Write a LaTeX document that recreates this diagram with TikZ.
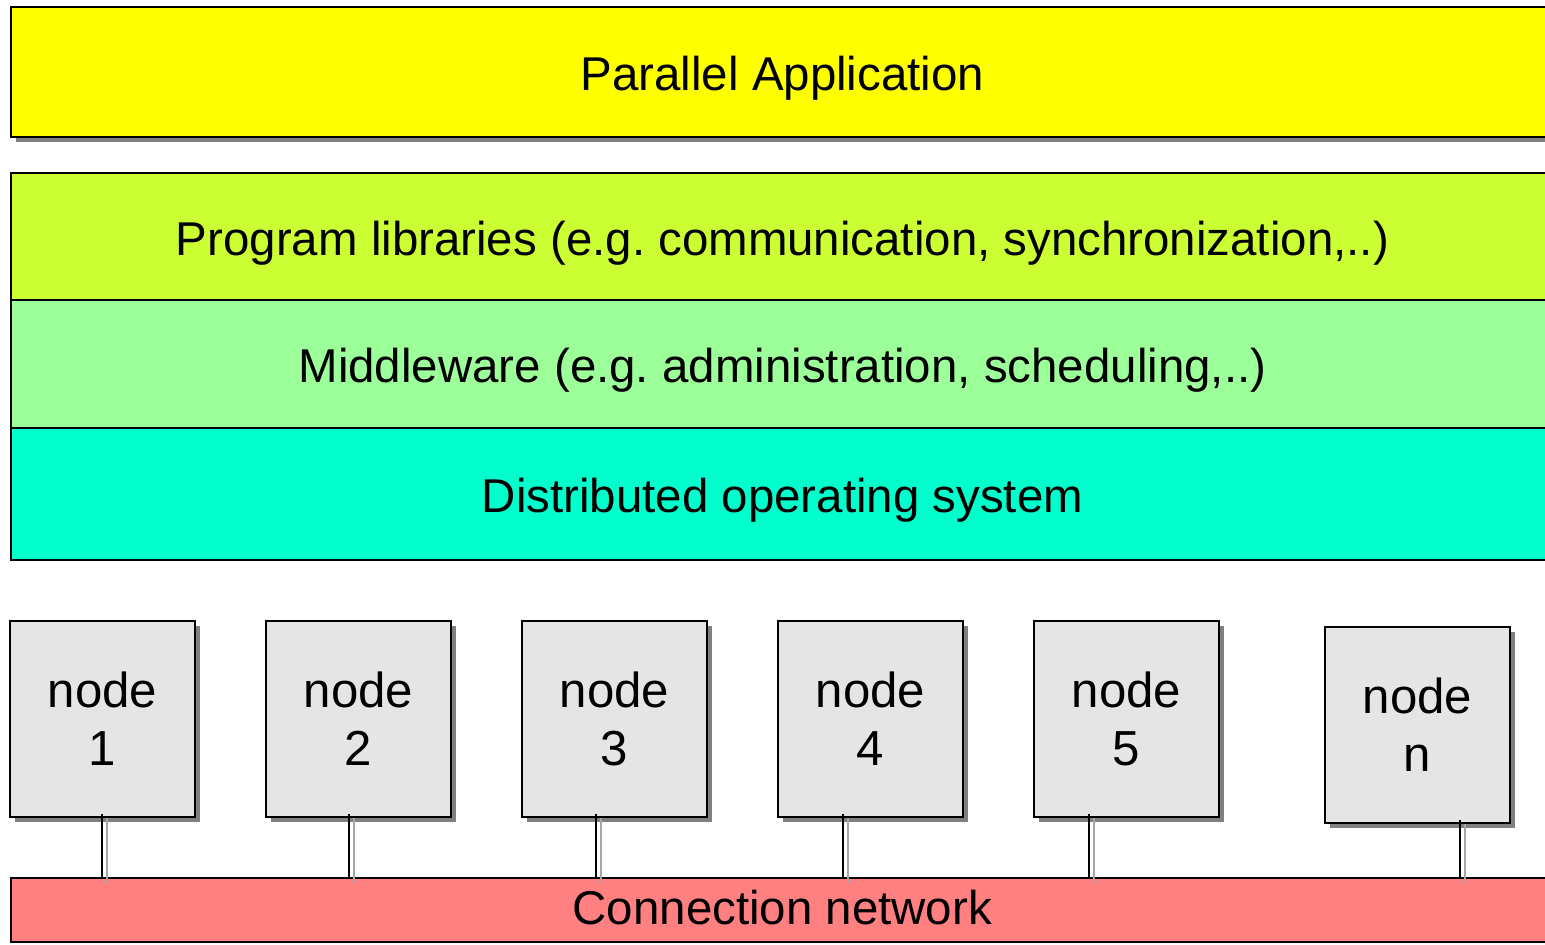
\documentclass[tikz,border=0pt]{standalone}
\usepackage{fontspec}
\setmainfont{Liberation Sans}
\usetikzlibrary{calc,shadows}

\definecolor{appyellow}{HTML}{FFFF00}
\definecolor{libgreen}{HTML}{CCFF33}
\definecolor{midgreen}{HTML}{9CFF99}
\definecolor{osteal}{HTML}{00FFCC}
\definecolor{netred}{HTML}{FF8080}
\definecolor{boxgray}{HTML}{E5E5E5}

\tikzset{
	layer/.style={draw, line width=1.1pt, anchor=west, minimum width=30.86cm, inner sep=0pt, text height=0.94cm, text depth=0.2cm, font=\fontsize{27}{33}\selectfont},
	hostbox/.style={draw, line width=1.1pt, fill=boxgray, minimum width=3.7cm, minimum height=3.92cm, inner sep=0pt, align=center, font=\fontsize{28}{33}\selectfont, drop shadow={shadow xshift=0.1cm, shadow yshift=-0.1cm, fill=black!50, opacity=1}},
	link/.style={line width=1pt, color=black},
	linkshade/.style={line width=1.4pt, color=black!35}
}

\begin{document}
\frenchspacing
\begin{tikzpicture}
			%%%%% START %%%%%
			
			\fill[white] (0, 0) rectangle (30.9, -18.88);
			\useasboundingbox (0, 0) rectangle (30.9, -18.88);
			\clip (0, 0) rectangle (30.9, -18.88);
			
			\node[layer, fill=appyellow, minimum height=2.6cm, drop shadow={shadow xshift=0.1cm, shadow yshift=-0.1cm, fill=black!50, opacity=1}] (app) at (0.2, -1.44) {Parallel Application};
			
			\node[layer, fill=libgreen, minimum height=2.54cm] (lib) at (0.2, -4.73) {Program libraries (e.g. communication, synchronization,..)};
			\node[layer, fill=midgreen, minimum height=2.56cm] (mid) at (0.2, -7.28) {Middleware (e.g. administration, scheduling,..)};
			\node[layer, fill=osteal, minimum height=2.64cm] (os) at (0.2, -9.88) {Distributed operating system};
			
			\node[hostbox] (n1) at (2.05, -14.38) {node\\1};
			\node[hostbox] (n2) at (7.17, -14.38) {node\\2};
			\node[hostbox] (n3) at (12.29, -14.38) {node\\3};
			\node[hostbox] (n4) at (17.41, -14.38) {node\\4};
			\node[hostbox] (n5) at (22.53, -14.38) {node\\5};
			\node[hostbox] (nn) at (28.35, -14.5) {node\\n};
			
			\node[layer, fill=netred, minimum height=1.28cm, line width=0.9pt, text height=0.78cm] (net) at (0.2, -18.2) {Connection network};
			
			% links to the network
			\foreach \host/\dx in {n1/-0.01, n2/-0.19, n3/-0.37, n4/-0.55, n5/-0.75, nn/0.85} {
				\draw[linkshade] ($(\host.south)+(\dx+0.1, 0)$) -- ($(\host.south |- net.north)+(\dx+0.1, -0.12)$);
				\draw[link] ($(\host.south)+(\dx, 0.08)$) -- ($(\host.south |- net.north)+(\dx, 0)$);
			}
			
			%%%%% END %%%%%
\end{tikzpicture}
\end{document}
